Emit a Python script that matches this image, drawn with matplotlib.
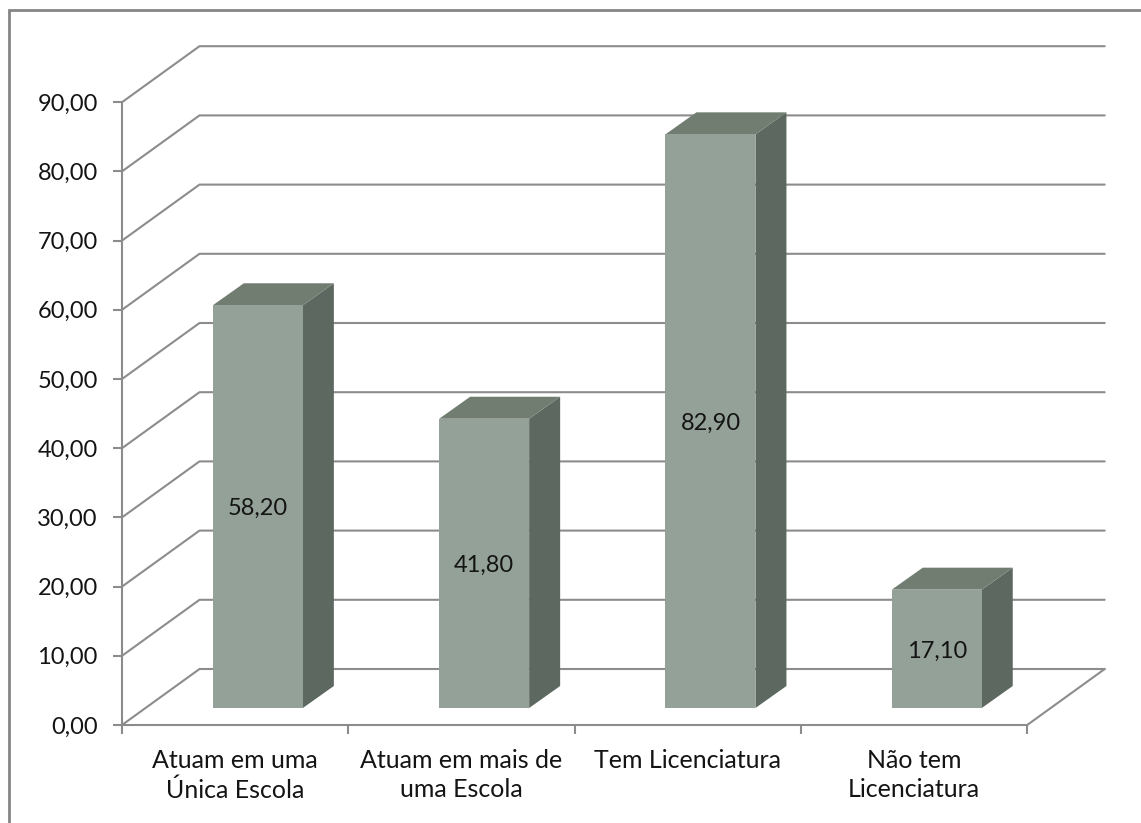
import matplotlib
matplotlib.use("Agg")
import matplotlib.pyplot as plt
from matplotlib.patches import Polygon, Rectangle

plt.rcParams["font.family"] = ["Lato", "DejaVu Sans"]

categories = ["Atuam em uma\nÚnica Escola", "Atuam em mais de\numa Escola",
              "Tem Licenciatura", "Não tem\nLicenciatura"]
values = [58.20, 41.80, 82.90, 17.10]
value_labels = ["58,20", "41,80", "82,90", "17,10"]
y_ticks = [0, 10, 20, 30, 40, 50, 60, 70, 80, 90]
y_tick_labels = ["0,00", "10,00", "20,00", "30,00", "40,00",
                 "50,00", "60,00", "70,00", "80,00", "90,00"]

W, H = 1141, 823
PX_PER_VALUE = 6.92
PX_PER_CAT = 226.3
NUMBER_SIZE = 17.0
CATEGORY_SIZE = 18.0

FRONT = "#94A198"
SIDE = "#5D6860"
TOP = "#727D72"
LINE = "#8C8C8C"
TEXT = "#141414"

fig = plt.figure(figsize=(W / 100, H / 100), dpi=100, facecolor="white")

# Chart frame, cut off by the right and bottom edges of the canvas
frame = Rectangle((9 / W, -0.02), 1.1, 1.02 - 9.5 / H, transform=fig.transFigure,
                  fill=False, edgecolor="#858585", linewidth=2.0)
fig.add_artist(frame)

left, right, bottom, top = 122, 1106, 725, 46
ax = fig.add_axes([left / W, 1 - bottom / H, (right - left) / W, (bottom - top) / H])
ax.patch.set_alpha(0)
ax.set_xlim(-0.5, -0.5 + (right - left) / PX_PER_CAT)
ax.set_ylim(0, (bottom - top) / PX_PER_VALUE)

# Perspective offsets of the wall and of the bar depth, in data units
wall_dx, wall_dy = 77.5 / PX_PER_CAT, 56 / PX_PER_VALUE
depth_dx, depth_dy = 31 / PX_PER_CAT, 22 / PX_PER_VALUE
bar_shift_x, bar_lift = 22.7 / PX_PER_CAT, 17 / PX_PER_VALUE
bar_half = 45 / PX_PER_CAT

x0, x1 = -0.5, 3.5
line_kw = dict(color=LINE, linewidth=1.5, solid_capstyle="round", zorder=1)
for v in y_ticks:
    ax.plot([x0, x0 + wall_dx, x1 + wall_dx],
            [v, v + wall_dy, v + wall_dy], clip_on=False, **line_kw)
ax.plot([x1 + wall_dx, x1], [wall_dy, 0], clip_on=False, **line_kw)

for i, (v, label) in enumerate(zip(values, value_labels)):
    xl = i + bar_shift_x - bar_half
    xr = i + bar_shift_x + bar_half
    yb = bar_lift
    yt = bar_lift + v
    ax.add_patch(Polygon([(xr, yb), (xr + depth_dx, yb + depth_dy),
                          (xr + depth_dx, yt + depth_dy), (xr, yt)],
                         facecolor=SIDE, edgecolor="none", zorder=3))
    ax.add_patch(Polygon([(xl, yt), (xr, yt), (xr + depth_dx, yt + depth_dy),
                          (xl + depth_dx, yt + depth_dy)],
                         facecolor=TOP, edgecolor="none", zorder=3))
    ax.add_patch(Rectangle((xl, yb), xr - xl, v, facecolor=FRONT,
                           edgecolor="none", zorder=4))
    ax.annotate(label, xy=(i + bar_shift_x, yb + v / 2), xytext=(0, -1.5),
                textcoords="offset points", ha="center", va="center",
                fontsize=NUMBER_SIZE, color=TEXT, zorder=5)

for side in ("top", "right"):
    ax.spines[side].set_visible(False)
for side in ("left", "bottom"):
    ax.spines[side].set_color(LINE)
    ax.spines[side].set_linewidth(1.5)
ax.spines["left"].set_bounds(0, 90)
ax.spines["bottom"].set_bounds(x0, x1)

ax.set_yticks(y_ticks)
ax.set_yticklabels(y_tick_labels)
ax.set_xticks([x0, 0.5, 1.5, 2.5, 3.5], minor=False)
ax.set_xticklabels([])
ax.tick_params(axis="both", color=LINE, width=1.5, length=6.5, direction="out")
ax.tick_params(axis="y", labelsize=NUMBER_SIZE, labelcolor=TEXT, pad=11)

# Category names sit between the ticks
for i, name in enumerate(categories):
    ax.annotate(name, xy=(i, 0), xytext=(0, -17.5), textcoords="offset points",
                ha="center", va="top", fontsize=CATEGORY_SIZE, color=TEXT, linespacing=1.3,
                annotation_clip=False)

fig.savefig("out.png", dpi=100, facecolor="white")
